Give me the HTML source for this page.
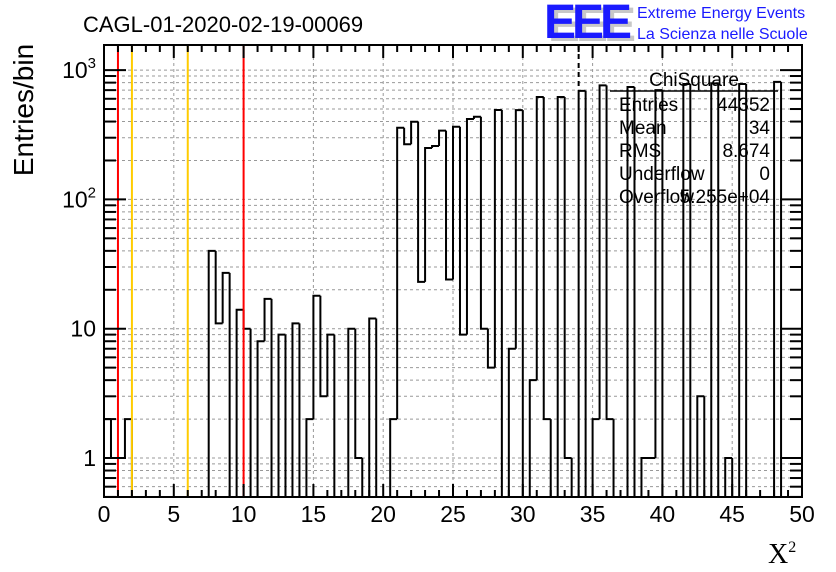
<!DOCTYPE html>
<html><head><meta charset="utf-8"><style>
body{margin:0;background:#fff;}
svg{display:block;font-family:"Liberation Sans",sans-serif;}
</style></head><body>
<svg id="c" width="836" height="572">
<rect width="836" height="572" fill="#fff"/>
<g id="grid"></g>
<g id="hist"></g>
<g id="marks"></g>
<g id="axes"></g>
<text x="83" y="32" font-size="22">CAGL-01-2020-02-19-00069</text>
<g>
<text x="548" y="41" font-size="48" font-weight="bold" fill="#c8c8c8" letter-spacing="-4">EEE</text>
<text x="544" y="38" font-size="48" font-weight="bold" fill="#1a1aff" letter-spacing="-4">EEE</text>
<text x="637" y="18" font-size="16" fill="#1a1aff">Extreme Energy Events</text>
<text x="637" y="39" font-size="16" fill="#1a1aff">La Scienza nelle Scuole</text>
</g>
<text transform="translate(33,110) rotate(-90)" text-anchor="middle" font-size="28">Entries/bin</text>
<text x="768" y="563" font-family="Liberation Serif,serif" font-size="28">X<tspan font-size="16" dy="-11">2</tspan></text>
<g font-size="19">
<line x1="610" y1="91" x2="778" y2="91" stroke="#000" stroke-width="1.5"/>
<text x="694" y="86" text-anchor="middle">ChiSquare</text>
<text x="619" y="111">Entries</text><text x="770" y="111" text-anchor="end">44352</text>
<text x="619" y="134">Mean</text><text x="770" y="134" text-anchor="end">34</text>
<text x="619" y="157">RMS</text><text x="770" y="157" text-anchor="end">8.674</text>
<text x="619" y="180">Underflow</text><text x="770" y="180" text-anchor="end">0</text>
<text x="619" y="203">Overflow</text><text x="770" y="203" text-anchor="end">5.255e+04</text>
</g>
</svg>
<script>
const binEdgesMin = 0, binWidth = 0.5;
const counts = [2,1,1,2,0,0,0,0,0,0, 0,0,0,0,0,40,11,27,0,14, 10,0,8,17,0,9,0,11,0,2, 18,3,9,0,0,10,1,0,12,0, 0,2,358,267,399,23,250,259,340,24, 365,9,419,436,10,5,491,0,7,490, 0,4,620,2,0,620,1,0,690,0, 2,762,2,0,0,740,0,1,1,700, 0,0,0,780,0,3,0,790,0,1, 0,780,0,0,0,0,810,0,0,0];
const redCuts = [1,10];
const orangeCuts = [2,6];
const meanMarker = [34];
const xTicks = [0,5,10,15,20,25,30,35,40,45,50];
const yTicks = [1,10,100,1000];
const yTickLabels = ["1","10","10²","10³"];

const X0=104,X1=802,Y0=45,Y1=497;
const xs = v => X0+(v-0)/(50-0)*(X1-X0);
const ys = v => 458-129.3*Math.log10(v);
const NS="http://www.w3.org/2000/svg";
function mk(tag,attrs,parent){const e=document.createElementNS(NS,tag);for(const k in attrs)e.setAttribute(k,attrs[k]);parent.appendChild(e);return e;}
const grid=document.getElementById('grid'),hist=document.getElementById('hist'),marks=document.getElementById('marks'),axes=document.getElementById('axes');
xTicks.slice(1,-1).forEach(t=>{const l=mk('line',{x1:xs(t),x2:xs(t),y1:Y0,y2:Y1,stroke:'#999','stroke-dasharray':'3,3','stroke-width':1},grid);

});
const ySub=[];
for(let d=0.1;d<=1000;d*=10)for(let m=1;m<10;m++){const v=+(d*m).toPrecision(3);const y=ys(v);if(y>Y0&&y<Y1)ySub.push([v,y,m===1]);}
ySub.forEach(([v,y,maj])=>{const l=mk('line',{x1:X0,x2:X1,y1:y,y2:y,stroke:'#999','stroke-dasharray':'3,3','stroke-width':1},grid);


[[X0,X0+(maj?22:12)],[X1,X1-(maj?22:12)]].forEach(([a,b])=>{const t=mk('line',{x1:a,x2:b,y1:y,y2:y,stroke:'#000','stroke-width':2},axes);

});});
const yb=Y1;
let d='';let prev=0;
counts.forEach((c,i)=>{const xa=xs(binEdgesMin+i*binWidth),xb=xs(binEdgesMin+(i+1)*binWidth);
const y=c>0?ys(c):yb;const yp=prev>0?ys(prev):yb;
d+=`M${xa},${yp}L${xa},${y}L${xb},${y}`;prev=c;});
d+=`M${X1},${prev>0?ys(prev):yb}L${X1},${yb}`;
const hp=mk('path',{d:d,fill:'none',stroke:'#000','stroke-width':2},hist);


redCuts.forEach(v=>{const l=mk('line',{x1:xs(v),x2:xs(v),y1:Y0,y2:Y1,stroke:'#f00','stroke-width':2},marks);

});
orangeCuts.forEach(v=>{const l=mk('line',{x1:xs(v),x2:xs(v),y1:Y0,y2:Y1,stroke:'#fc0','stroke-width':2},marks);

});
meanMarker.forEach(v=>{const l=mk('line',{x1:xs(v),x2:xs(v),y1:Y0,y2:87,stroke:'#000','stroke-width':2,'stroke-dasharray':'5,4'},marks);

});
const fr=mk('rect',{x:X0,y:Y0,width:X1-X0,height:Y1-Y0,fill:'none',stroke:'#000','stroke-width':2},axes);


for(let v=0;v<=50;v++){const maj=v%5===0;const L=maj?13:7;
[[Y1,Y1-L],[Y0,Y0+L]].forEach(([a,b])=>{const t=mk('line',{x1:xs(v),x2:xs(v),y1:a,y2:b,stroke:'#000','stroke-width':2},axes);

});}
xTicks.forEach(t=>{const tx=mk('text',{x:xs(t),y:522,'text-anchor':'middle','font-size':23},axes);tx.textContent=t;

});
yTicks.forEach((t,i)=>{const tx=mk('text',{x:96,y:ys(t)+8,'text-anchor':'end','font-size':23},axes);
const s=yTickLabels[i];
if(s.length>2&&s.startsWith('10')){tx.textContent='10';const sp=mk('tspan',{'font-size':15,dy:-10},tx);sp.textContent=s==='10²'?'2':'3';}
else tx.textContent=s;

});
</script>
</body></html>
